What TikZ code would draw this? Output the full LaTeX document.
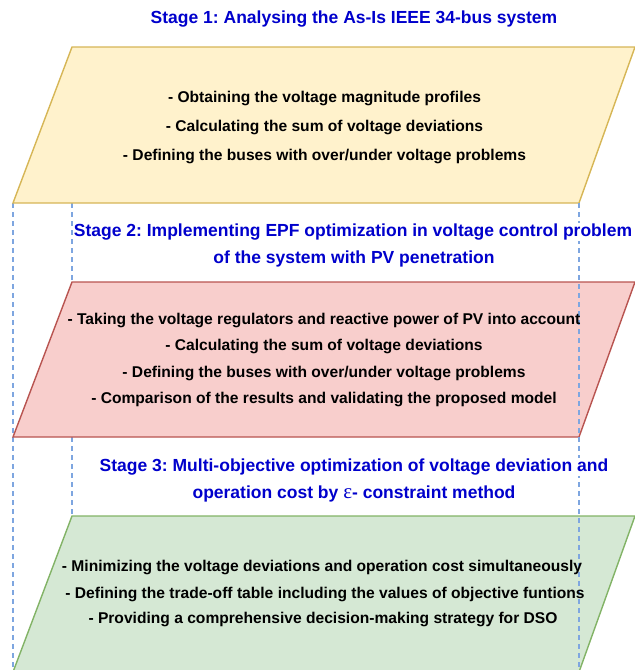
\documentclass[tikz,border=0pt]{standalone}
\usepackage{fontspec}
\setmainfont{Liberation Sans}
\newfontfamily\epsfont{Liberation Serif}
\frenchspacing
\begin{document}
\begin{tikzpicture}[x=1pt,y=-1pt,
  stagetitle/.style={font=\bfseries\fontsize{17.5}{20}\selectfont, text=titleblue, fill=white, inner sep=1pt, anchor=base},
  bodyline/.style={font=\bfseries\fontsize{15.6}{18}\selectfont, text=black, inner sep=0pt, anchor=base},
  guide/.style={draw=guideblue, line width=1.4pt, dash pattern=on 5pt off 4pt},
  stagebox/.style={line width=1.4pt}
]
\definecolor{titleblue}{HTML}{0000CC}
\definecolor{guideblue}{HTML}{7EA6E0}
\definecolor{yfill}{HTML}{FFF2CC}\definecolor{ydraw}{HTML}{D6B656}
\definecolor{rfill}{HTML}{F8CECC}\definecolor{rdraw}{HTML}{B85450}
\definecolor{gfill}{HTML}{D5E8D4}\definecolor{gdraw}{HTML}{82B366}
\useasboundingbox (0,0) rectangle (635,670);

% guide coordinates
\coordinate (l1) at (13,203);  \coordinate (l2) at (13,670);
\coordinate (m1) at (72,203);  \coordinate (m2) at (72,282);
\coordinate (m3) at (72,437);  \coordinate (m4) at (72,516);
\coordinate (r1) at (579,203); \coordinate (r2) at (579,670);

% left and inner guides (behind the stage boxes)
\draw[guide] (l1) -- (l2);
\draw[guide] (m1) -- (m2);
\draw[guide] (m3) -- (m4);

% stage boxes
\filldraw[stagebox, fill=yfill, draw=ydraw] (72,47) -- (635,47) -- (579,203) -- (13,203) -- cycle;
\filldraw[stagebox, fill=rfill, draw=rdraw] (72,282) -- (635,282) -- (579,437) -- (13,437) -- cycle;
\filldraw[stagebox, fill=gfill, draw=gdraw] (72,516) -- (635,516) -- (579,672) -- (13,672) -- cycle;

% right guide (over the boxes)
\draw[guide] (r1) -- (r2);

% stage titles
\node[stagetitle] (t1) at (354,23.3) {Stage 1: Analysing the As-Is IEEE 34-bus system};
\node[stagetitle] (t2a) at (353,236.7) {Stage 2: Implementing EPF optimization in voltage control problem};
\node[stagetitle] (t2b) at (354,263.3) {of the system with PV penetration};
\node[stagetitle] (t3a) at (354,471.7) {Stage 3: Multi-objective optimization of voltage deviation and};
\node[stagetitle] (t3b) at (354,498.3) {operation cost by {\epsfont\mdseries\fontsize{21}{20}\selectfont ε}- constraint method};

% stage 1 items
\node[bodyline] (a1) at (324.5,102) {- Obtaining the voltage magnitude profiles};
\node[bodyline] (a2) at (324.5,131) {- Calculating the sum of voltage deviations};
\node[bodyline] (a3) at (324.5,160) {- Defining the buses with over/under voltage problems};

% stage 2 items
\node[bodyline] (b1) at (324,324) {- Taking the voltage regulators and reactive power of PV into account};
\node[bodyline] (b2) at (324,350.7) {- Calculating the sum of voltage deviations};
\node[bodyline] (b3) at (324,377) {- Defining the buses with over/under voltage problems};
\node[bodyline] (b4) at (324,403.3) {- Comparison of the results and validating the proposed model};

% stage 3 items
\node[bodyline] (c1) at (322,571.7) {- Minimizing the voltage deviations and operation cost simultaneously};
\node[bodyline] (c2) at (325,598.3) {- Defining the trade-off table including the values of objective funtions};
\node[bodyline] (c3) at (323,623.3) {- Providing a comprehensive decision-making strategy for DSO};
\end{tikzpicture}
\end{document}
